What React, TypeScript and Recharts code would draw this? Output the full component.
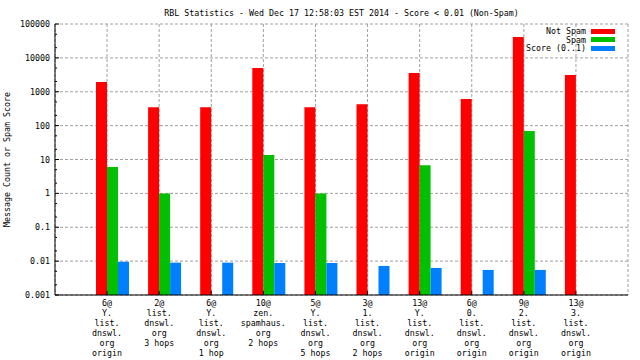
import React from "react";
import {
  BarChart,
  Bar,
  XAxis,
  YAxis,
  CartesianGrid,
} from "recharts";

const FONT = '"DejaVu Sans Mono", "Liberation Mono", monospace';
const FS = 8.3;

const categories = [
  "6@\nY.\nlist.\ndnswl.\norg\norigin",
  "2@\nlist.\ndnswl.\norg\n3 hops",
  "6@\nY.\nlist.\ndnswl.\norg\n1 hop",
  "10@\nzen.\nspamhaus.\norg\n2 hops",
  "5@\nY.\nlist.\ndnswl.\norg\n5 hops",
  "3@\n1.\nlist.\ndnswl.\norg\n2 hops",
  "13@\nY.\nlist.\ndnswl.\norg\norigin",
  "6@\n0.\nlist.\ndnswl.\norg\norigin",
  "9@\n2.\nlist.\ndnswl.\norg\norigin",
  "13@\n3.\nlist.\ndnswl.\norg\norigin",
];

const notSpam = [1950, 350, 350, 5000, 350, 430, 3550, 610, 41000, 3100];
const spam = [6, 1, null, 13.5, 1, null, 6.8, null, 69, null];
const score = [0.0096, 0.009, 0.009, 0.0088, 0.0088, 0.0072, 0.0063, 0.0055, 0.0055, null];

const yTicks = [0.001, 0.01, 0.1, 1, 10, 100, 1000, 10000, 100000];
// minor tics at 2 and 5 of every decade
const yMinor = [
  0.002, 0.005, 0.02, 0.05, 0.2, 0.5, 2, 5, 20, 50, 200, 500, 2000, 5000, 20000, 50000,
];
const allTicks = [...yTicks, ...yMinor].sort((a, b) => a - b);

const series = [
  { key: "notSpam", label: "Not Spam", color: "#ff0000" },
  { key: "spam", label: "Spam", color: "#00c000" },
  { key: "score", label: "Score (0..1)", color: "#0080ff" },
];

const data = categories.map((name, i) => ({
  name,
  notSpam: notSpam[i],
  spam: spam[i],
  score: score[i],
}));

const isMajor = (v: number) => yTicks.includes(v);

function XTick(props: any) {
  const { x, y, payload } = props;
  const lines = String(payload.value).split("\n");
  return (
    <g>
      <line x1={x} x2={x} y1={y} y2={y - 4} stroke="#000" />
      <text x={x} y={y} textAnchor="middle" fontFamily={FONT} fontSize={FS} fill="#000">
        {lines.map((l, i) => (
          <tspan key={i} x={x} dy={i === 0 ? 11 : 10}>
            {l}
          </tspan>
        ))}
      </text>
    </g>
  );
}

function YTickLeft(props: any) {
  const { x, y, payload } = props;
  const ax = x + 5;
  const major = isMajor(payload.value);
  return (
    <g>
      <line x1={ax} x2={ax + (major ? 4 : 2)} y1={y} y2={y} stroke="#000" />
      {major && (
        <text x={x} y={y + 3} textAnchor="end" fontFamily={FONT} fontSize={FS} fill="#000">
          {String(payload.value)}
        </text>
      )}
    </g>
  );
}

function YTickRight(props: any) {
  const { x, y, payload } = props;
  const major = isMajor(payload.value);
  return <line x1={x} x2={x - (major ? 4 : 2)} y1={y} y2={y} stroke="#000" />;
}

export default function App() {
  return (
    <div
      style={{
        position: "absolute",
        left: 0,
        top: 0,
        width: 640,
        height: 360,
        background: "#fff",
        fontFamily: FONT,
      }}
    >
      <div
        style={{
          position: "absolute",
          left: 55,
          width: 573,
          top: 8,
          textAlign: "center",
          fontSize: FS,
          lineHeight: "10px",
          whiteSpace: "pre",
        }}
      >
        RBL Statistics - Wed Dec 17 12:58:03 EST 2014 - Score &lt; 0.01 (Non-Spam)
      </div>
      <BarChart
        width={640}
        height={360}
        data={data}
        margin={{ top: 24, right: 12, bottom: 5, left: 2 }}
        barGap={0}
      >
        <CartesianGrid
          xAxisId="lbl"
          yAxisId="l"
          horizontalValues={yTicks}
          stroke="#a0a0a0"
          strokeDasharray="3 2"
        />
        <XAxis
          xAxisId="bars"
          dataKey="name"
          hide
          height={0}
          padding={{ left: 31, right: 21 }}
        />
        <XAxis
          xAxisId="lbl"
          dataKey="name"
          height={60}
          interval={0}
          padding={{ left: 26, right: 26 }}
          tickSize={0}
          tickMargin={0}
          tickLine={false}
          tick={<XTick />}
          axisLine={{ stroke: "#000" }}
        />
        <XAxis
          xAxisId="top"
          orientation="top"
          dataKey="name"
          height={0}
          tick={false}
          tickLine={false}
          axisLine={{ stroke: "#000" }}
        />
        <YAxis
          yAxisId="l"
          scale="log"
          type="number"
          domain={[0.001, 100000]}
          ticks={allTicks}
          interval={0}
          allowDataOverflow
          width={53}
          tickSize={0}
          tickMargin={5}
          tickLine={false}
          tick={<YTickLeft />}
          axisLine={{ stroke: "#000" }}
          label={{
            value: "Message Count or Spam Score",
            angle: -90,
            position: "insideLeft",
            style: { textAnchor: "middle", fontFamily: FONT, fontSize: FS, fill: "#000" },
          }}
        />
        <YAxis
          yAxisId="r"
          orientation="right"
          scale="log"
          type="number"
          domain={[0.001, 100000]}
          ticks={allTicks}
          interval={0}
          allowDataOverflow
          width={0}
          tickSize={0}
          tickMargin={0}
          tickLine={false}
          tick={<YTickRight />}
          axisLine={{ stroke: "#000" }}
        />
        {series.map((s) => (
          <Bar
            key={s.key}
            dataKey={s.key}
            xAxisId="bars"
            yAxisId="l"
            fill={s.color}
            barSize={11}
            isAnimationActive={false}
          />
        ))}
      </BarChart>
      <div style={{ position: "absolute", top: 27, right: 25, fontSize: FS }}>
        {series.map((s) => (
          <div
            key={s.key}
            style={{
              display: "flex",
              justifyContent: "flex-end",
              alignItems: "center",
              height: 8.5,
              lineHeight: "8.5px",
              whiteSpace: "pre",
            }}
          >
            <span>{s.label}</span>
            <span
              style={{
                display: "inline-block",
                width: 24,
                height: 5,
                marginLeft: 5,
                background: s.color,
              }}
            />
          </div>
        ))}
      </div>
    </div>
  );
}
